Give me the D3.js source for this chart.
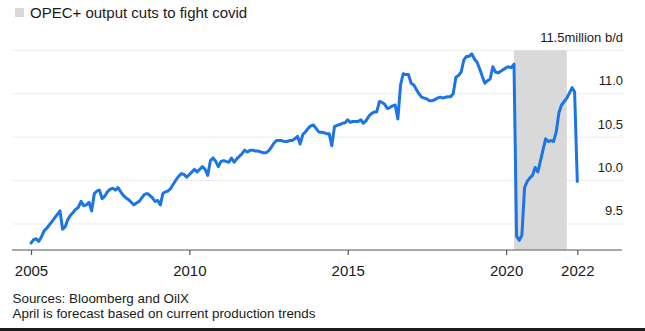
<!DOCTYPE html>
<html>
<head>
<meta charset="utf-8">
<script src="https://cdn.jsdelivr.net/npm/d3@7"></script>
<style>
  html, body { margin: 0; padding: 0; background: #fff; }
  svg { display: block; font-family: "Liberation Sans", Arial, Helvetica, sans-serif; }
</style>
</head>
<body>
<svg id="chart" width="645" height="331"></svg>
<script>
// Monthly crude output, million barrels a day, January 2005 to April 2022 (April 2022 is a forecast)
const output = [
  // 2005
  9.28, 9.32, 9.33, 9.30, 9.35, 9.42, 9.45, 9.49, 9.53, 9.57, 9.61, 9.65,
  // 2006
  9.44, 9.47, 9.55, 9.60, 9.63, 9.67, 9.69, 9.76, 9.71, 9.72, 9.75, 9.65,
  // 2007
  9.85, 9.88, 9.89, 9.79, 9.82, 9.87, 9.90, 9.91, 9.89, 9.92, 9.87, 9.83,
  // 2008
  9.80, 9.78, 9.75, 9.72, 9.74, 9.76, 9.80, 9.84, 9.85, 9.83, 9.80, 9.76,
  // 2009
  9.77, 9.72, 9.85, 9.87, 9.88, 9.91, 9.96, 10.01, 10.05, 10.08, 10.07, 10.04,
  // 2010
  10.07, 10.10, 10.13, 10.10, 10.13, 10.16, 10.13, 10.06, 10.23, 10.26, 10.22, 10.16,
  // 2011
  10.22, 10.23, 10.22, 10.21, 10.26, 10.21, 10.25, 10.28, 10.31, 10.35, 10.33, 10.35,
  // 2012
  10.35, 10.34, 10.34, 10.33, 10.32, 10.32, 10.34, 10.38, 10.43, 10.46, 10.46, 10.46,
  // 2013
  10.45, 10.45, 10.46, 10.46, 10.48, 10.51, 10.42, 10.53, 10.56, 10.60, 10.63, 10.64,
  // 2014
  10.60, 10.56, 10.555, 10.55, 10.54, 10.54, 10.40, 10.62, 10.635, 10.645, 10.66, 10.665,
  // 2015
  10.70, 10.67, 10.68, 10.68, 10.68, 10.70, 10.66, 10.69, 10.74, 10.77, 10.79, 10.79,
  // 2016
  10.91, 10.90, 10.88, 10.83, 10.84, 10.86, 10.87, 10.71, 11.10, 11.23, 11.22, 11.22,
  // 2017
  11.12, 11.10, 11.05, 11.00, 10.96, 10.95, 10.94, 10.92, 10.92, 10.93, 10.95, 10.96,
  // 2018
  10.95, 10.96, 10.965, 10.965, 11.00, 11.19, 11.21, 11.25, 11.39, 11.43, 11.43, 11.46,
  // 2019
  11.40, 11.36, 11.29, 11.20, 11.12, 11.15, 11.17, 11.31, 11.25, 11.24, 11.26, 11.28,
  // 2020
  11.30, 11.31, 11.30, 11.34, 9.36, 9.31, 9.37, 9.92, 9.99, 10.03, 10.06, 10.15,
  // 2021
  10.10, 10.23, 10.35, 10.48, 10.45, 10.46, 10.45, 10.56, 10.78, 10.87, 10.91, 10.95,
  // 2022
  11.01, 11.07, 11.02, 9.99
];
const firstMonth = new Date(2005, 0, 1);

// OPEC+ cut period shaded on the chart
const cutStart = new Date(2020, 3, 1);
const cutEnd = new Date(2021, 11, 1);

// Axis ticks
const xTickDates = [new Date(2005, 0, 1), new Date(2010, 0, 1), new Date(2015, 0, 1), new Date(2020, 0, 1), new Date(2022, 3, 1)];
const xTickLabels = ["2005", "2010", "2015", "2020", "2022"];
const yTicks = [9.5, 10.0, 10.5, 11.0, 11.5];
const yUnit = "million b/d";

const legendLabel = "OPEC+ output cuts to fight covid";
const notes = ["Sources: Bloomberg and OilX", "April is forecast based on current production trends"];

const dates = output.map((_, i) => d3.timeMonth.offset(firstMonth, i));
const series = output.map((v, i) => ({ date: dates[i], value: v }));

const svg = d3.select("#chart");
const W = 645, H = 331;
const plotLeft = 12, plotRight = 622;
const axisY = 250;

const x = d3.scaleTime()
  .domain([new Date(2005, 0, 1), new Date(2022, 3, 1)])
  .range([31, 577.3]);
const y = d3.scaleLinear()
  .domain([9.2, 11.5])
  .range([axisY, 50.3]);

svg.append("rect").attr("width", W).attr("height", H).attr("fill", "#fff");

// Legend
svg.append("rect").attr("x", 15).attr("y", 8).attr("width", 9).attr("height", 9).attr("fill", "#d9d9d9");
svg.append("text").attr("x", 30).attr("y", 17.5)
  .attr("font-size", 15).attr("fill", "#1a1a1a").text(legendLabel);

// Gridlines
svg.append("g").selectAll("line").data(yTicks).join("line")
  .attr("x1", plotLeft + 1).attr("x2", plotRight + 1)
  .attr("y1", d => y(d)).attr("y2", d => y(d))
  .attr("stroke", "#ebebeb").attr("stroke-width", 1);

// Cut period band
svg.append("rect")
  .attr("x", x(cutStart)).attr("width", x(cutEnd) - x(cutStart))
  .attr("y", y(11.5)).attr("height", axisY - y(11.5))
  .attr("fill", "#d9d9d9");

// Y labels, sitting above their gridlines at the right edge
svg.append("g").selectAll("text").data(yTicks).join("text")
  .attr("x", 623).attr("y", d => y(d) - 8.5)
  .attr("text-anchor", "end").attr("font-size", 13).attr("fill", "#1a1a1a")
  .text(d => d === 11.5 ? d3.format(".1f")(d) + yUnit : d3.format(".1f")(d));

// Baseline
svg.append("line").attr("x1", plotLeft).attr("x2", plotRight)
  .attr("y1", axisY).attr("y2", axisY)
  .attr("stroke", "#8c8c8c").attr("stroke-width", 1.5);

// X axis ticks and labels
const xAxis = d3.axisBottom(x)
  .tickValues(xTickDates)
  .tickFormat((d, i) => xTickLabels[i])
  .tickSize(5)
  .tickSizeOuter(0);
const gx = svg.append("g").attr("transform", `translate(0,${axisY})`).call(xAxis);
gx.select(".domain").remove();
gx.selectAll(".tick line").attr("stroke", "#555").attr("stroke-width", 1.2);
gx.selectAll(".tick text")
  .attr("y", 15).attr("font-size", 15).attr("fill", "#1a1a1a")
  .attr("font-family", "\"Liberation Sans\", Arial, sans-serif");

// Production line
const line = d3.line().x(d => x(d.date)).y(d => y(d.value));
svg.append("path").datum(series)
  .attr("d", line)
  .attr("fill", "none")
  .attr("stroke", "#1b75e6")
  .attr("stroke-width", 3)
  .attr("stroke-linejoin", "round")
  .attr("stroke-linecap", "round");

// Footnotes
svg.append("g").selectAll("text").data(notes).join("text")
  .attr("x", 12.5).attr("y", (d, i) => 303.3 + i * 14.5)
  .attr("font-size", 13.4).attr("fill", "#1a1a1a")
  .text(d => d);

// Dark strip along the bottom edge
svg.append("rect").attr("x", 0).attr("y", 328).attr("width", W).attr("height", H - 328).attr("fill", "#1c1c1c");
</script>
</body>
</html>
